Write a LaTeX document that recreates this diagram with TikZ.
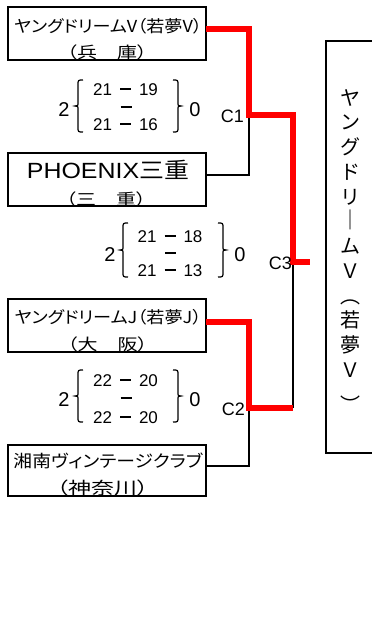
\documentclass[tikz,border=0pt]{standalone}
\usepackage{fontspec}
\usepackage{graphicx}
\setmainfont{Liberation Sans}
\newfontfamily\jp[RawFeature=+palt]{Noto Sans CJK JP}
\newfontfamily\jpv{Noto Sans CJK JP}
\newcommand\fitw[2]{\resizebox{#1}{\height}{#2}}
\newcommand\dsh{\rule[5.4pt]{11pt}{1.3pt}}
\newcommand\mylbr[3]{% x(tip), top, bottom
  \draw[brc] ({#1+8},{#2}) .. controls ({#1+3},{#2}) .. ({#1+3},{#2+5})
    -- ({#1+3},{(#2+#3)/2-4}) .. controls ({#1+3},{(#2+#3)/2}) .. ({#1},{(#2+#3)/2})
    .. controls ({#1+3},{(#2+#3)/2}) .. ({#1+3},{(#2+#3)/2+4})
    -- ({#1+3},{#3-5}) .. controls ({#1+3},{#3}) .. ({#1+8},{#3});}
\newcommand\myrbr[3]{% x(hook), top, bottom
  \draw[brc] ({#1},{#2}) .. controls ({#1+5},{#2}) .. ({#1+5},{#2+5})
    -- ({#1+5},{(#2+#3)/2-4}) .. controls ({#1+5},{(#2+#3)/2}) .. ({#1+8},{(#2+#3)/2})
    .. controls ({#1+5},{(#2+#3)/2}) .. ({#1+5},{(#2+#3)/2+4})
    -- ({#1+5},{#3-5}) .. controls ({#1+5},{#3}) .. ({#1},{#3});}
\tikzset{
  team/.style={draw, line width=2.4pt, minimum width=198pt, inner sep=0pt},
  lbl/.style={anchor=base, inner sep=0pt, outer sep=0pt},
  jpa/.style={lbl, font=\jp\fontsize{16.5}{16.5}\selectfont},
  jpb/.style={lbl, font=\jp\fontsize{16}{16}\selectfont},
  sc/.style={lbl, font=\fontsize{17}{17}\selectfont},
  big/.style={lbl, font=\fontsize{20}{20}\selectfont},
  cl/.style={anchor=base east, inner sep=0pt, font=\fontsize{18}{18}\selectfont},
  vch/.style={lbl, font=\jpv\fontsize{20}{20}\selectfont},
  winline/.style={draw=red, line width=5.5pt},
  loseline/.style={draw=black, line width=2.2pt},
  brc/.style={line width=1.2pt},
}
\begin{document}
\begin{tikzpicture}[x=1pt,y=-1pt]
\fill[white] (0,0) rectangle (372,640);
\useasboundingbox (0,0) rectangle (372,640);
\clip (0,0) rectangle (372,640);

% team boxes
\node[team, minimum height=53pt] (b1) at (107,33.5) {};
\node[team, minimum height=53pt] (b2) at (107,179.5) {};
\node[team, minimum height=53pt] (b3) at (107,325.5) {};
\node[team, minimum height=51pt] (b4) at (107,470.5) {};

% box texts
\node[jpa] (t1a) at (108,32) {\fitw{188pt}{ヤングドリームV（若夢V）}};
\node[jpb] (t1b) at (107,58) {\fitw{80pt}{（兵　庫）}};
\node[lbl, font=\fontsize{22}{22}\selectfont] (t2a) at (108,178) {\fitw{162pt}{PHOENIX{\jp 三重}}};
\node[jpb] (t2b) at (106,205) {\fitw{80pt}{（三　重）}};
\node[jpa] (t3a) at (108,323) {\fitw{187pt}{ヤングドリームJ（若夢J）}};
\node[jpb] (t3b) at (107.5,350) {\fitw{80pt}{（大　阪）}};
\node[lbl, font=\jp\fontsize{17}{17}\selectfont] (t4a) at (108,467) {\fitw{189pt}{湘南ヴィンテージクラブ}};
\node[lbl, font=\jp\fontsize{17}{17}\selectfont] (t4b) at (102.5,494) {\fitw{92pt}{（神奈川）}};

% winner box (its right side lies outside the picture)
\coordinate (wt) at (326,41);
\coordinate (wb) at (326,453);
\coordinate (wtr) at (380,41);
\coordinate (wbr) at (380,453);
\draw[line width=2.4pt] (wtr) -- (wt) -- (wb) -- (wbr);
\foreach \c/\dy [count=\i] in {ヤ/0,ン/0,グ/0,ド/0,リ/0,｜/-1,ム/0,Ｖ/0,︵/0,若/0,夢/0,Ｖ/0,︶/10}{
  \node[vch] (v\i) at (350,{98+24.75*(\i-1)+7.2+\dy}) {\c};
}

% junction coordinates
\coordinate (e1) at (206,29);
\coordinate (e2) at (206,175);
\coordinate (e3) at (206,322);
\coordinate (e4) at (206,466);
\coordinate (j1) at (249,115);
\coordinate (j2) at (249,408);
\coordinate (j3) at (293,262);
\coordinate (k2) at (293,408);
\coordinate (f) at (310,262);

% losing lines
\draw[loseline] (e2) -| (j1);
\draw[loseline] (e4) -| (j2);
\draw[loseline] (j3) -- (k2);
% winning lines
\draw[winline] (e1) -| (j1) -| (j3) -- (f);
\draw[winline] (e3) -| (j2) -- (k2);

% match labels
\node[cl] (c1) at (244,122) {C1};
\node[cl] (c2) at (245,415) {C2};
\node[cl] (c3) at (292,269) {C3};

% scores 1
\node[big] (s1l) at (64,116) {2};
\mylbr{75}{80}{132}
\node[sc] (s1a) at (125.5,95) {21\hspace{8pt}\dsh\hspace{8pt}19};
\node[sc] (s1m) at (126,113) {\dsh};
\node[sc] (s1b) at (125.5,130) {21\hspace{8pt}\dsh\hspace{8pt}16};
\myrbr{173}{80}{132}
\node[big] (s1r) at (195,116) {0};

% scores 2
\node[big] (s2l) at (110,261) {2};
\mylbr{120}{223}{277}
\node[sc] (s2a) at (170,242) {21\hspace{8pt}\dsh\hspace{8pt}18};
\node[sc] (s2m) at (170.5,259) {\dsh};
\node[sc] (s2b) at (170,276) {21\hspace{8pt}\dsh\hspace{8pt}13};
\myrbr{218}{223}{277}
\node[big] (s2r) at (240,261) {0};

% scores 3
\node[big] (s3l) at (64,406) {2};
\mylbr{75}{370}{422}
\node[sc] (s3a) at (125.5,386) {22\hspace{8pt}\dsh\hspace{8pt}20};
\node[sc] (s3m) at (126,404) {\dsh};
\node[sc] (s3b) at (125.5,423) {22\hspace{8pt}\dsh\hspace{8pt}20};
\myrbr{173}{370}{422}
\node[big] (s3r) at (195,406) {0};
\end{tikzpicture}
\end{document}
